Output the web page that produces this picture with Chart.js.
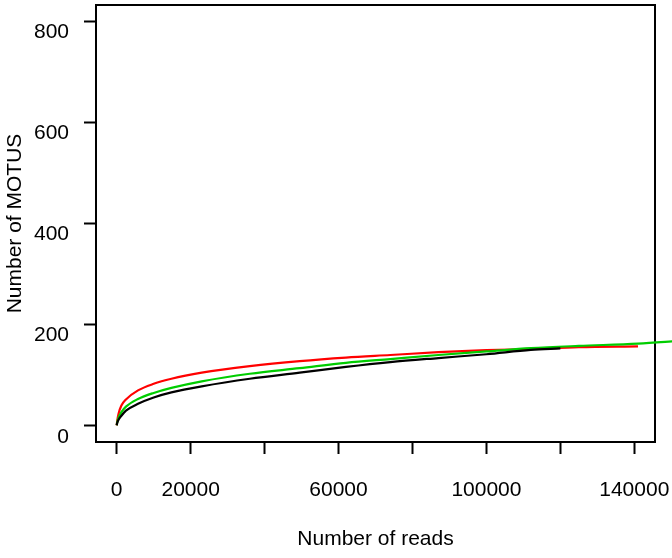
<!DOCTYPE html>
<html lang="en">
<head>
  <meta charset="UTF-8">
  <title>Rarefaction curves</title>
  <script src="https://cdn.jsdelivr.net/npm/chart.js"></script>
  <style>
    html, body { margin: 0; padding: 0; background: #fff; }
    canvas { display: block; }
  </style>
</head>
<body>
  <canvas id="rareChart" width="672" height="558"></canvas>

  <script>
    const blackReads = [0, 150, 500, 1270, 2500, 5760, 10000, 14800, 23000, 36000, 49500, 62000, 74000, 87000, 100000, 112000, 120000];
    const blackMotus = [1, 6, 12, 20, 30, 43.5, 56, 66, 78, 93, 105, 116.5, 126, 134, 141.5, 150, 153];

    const redReads = [0, 150, 500, 1270, 2500, 5760, 10000, 14800, 23000, 36000, 49500, 62000, 74000, 87000, 100000, 112000, 125000, 141000];
    const redMotus = [1, 10, 24, 40, 52, 70, 83, 93, 105, 118, 128, 135, 140, 145.5, 149.5, 152, 155.5, 157];

    const greenReads = [0, 150, 500, 1270, 2500, 5760, 10000, 14800, 23000, 36000, 49500, 62000, 74000, 87000, 100000, 112000, 125000, 141000, 152000];
    const greenMotus = [1, 7, 16, 27, 38, 53, 65, 75, 88, 103, 114, 124.5, 132, 140, 147, 153.5, 158, 162.5, 168];

    const xTicks = [0, 20000, 40000, 60000, 80000, 100000, 120000, 140000];
    const xShown = [0, 20000, 60000, 100000, 140000];
    const yTicks = [0, 200, 400, 600, 800];

    const font = { family: '"Liberation Sans", Arial, Helvetica, sans-serif', size: 21 };

    function toPoints(xs, ys) {
      return xs.map((x, i) => ({ x: x, y: ys[i] }));
    }

    function curve(label, xs, ys, color) {
      return {
        label: label,
        data: toPoints(xs, ys),
        borderColor: color,
        borderWidth: 2.2,
        pointRadius: 0,
        fill: false,
        showLine: true,
        cubicInterpolationMode: 'monotone',
        clip: false
      };
    }

    // no extra room for overhanging tick labels, the plot box is fixed
    function noPadding(s) {
      s.paddingTop = 0;
      s.paddingBottom = 0;
      s.paddingLeft = 0;
      s.paddingRight = 0;
    }

    // frame round the plotting region, like R's box()
    const boxPlugin = {
      id: 'box',
      beforeDatasetsDraw(chart) {
        const a = chart.chartArea;
        const ctx = chart.ctx;
        ctx.save();
        ctx.strokeStyle = '#000';
        ctx.lineWidth = 2;
        ctx.strokeRect(a.left, a.top, a.right - a.left, a.bottom - a.top);
        ctx.restore();
      }
    };

    const ctx = document.getElementById('rareChart').getContext('2d');
    new Chart(ctx, {
      type: 'scatter',
      data: {
        datasets: [
          curve('black', blackReads, blackMotus, '#000000'),
          curve('green', greenReads, greenMotus, '#00cd00'),
          curve('red', redReads, redMotus, '#ff0000')
        ]
      },
      options: {
        responsive: false,
        animation: false,
        layout: { padding: { top: 5, right: 17, left: 0, bottom: 0 } },
        plugins: {
          legend: { display: false },
          tooltip: { enabled: false }
        },
        scales: {
          x: {
            type: 'linear',
            min: -5600,
            max: 145600,
            afterBuildTicks: s => { s.ticks = xTicks.map(v => ({ value: v })); },
            afterFit: s => { s.height = 116; noPadding(s); },
            border: { display: false },
            grid: { display: true, drawOnChartArea: false, drawTicks: true, tickLength: 12, tickWidth: 2, tickColor: '#000' },
            ticks: {
              color: '#000',
              font: font,
              padding: 24,
              maxRotation: 0,
              autoSkip: false,
              callback: v => xShown.includes(v) ? String(v) : ''
            },
            title: { display: true, text: 'Number of reads', color: '#000', font: font, padding: { bottom: 6 } }
          },
          y: {
            type: 'linear',
            min: -32,
            max: 832,
            afterBuildTicks: s => { s.ticks = yTicks.map(v => ({ value: v })); },
            afterFit: s => { s.width = 96; noPadding(s); },
            border: { display: false },
            grid: { display: true, drawOnChartArea: false, drawTicks: true, tickLength: 12, tickWidth: 2, tickColor: '#000' },
            ticks: {
              color: '#000',
              font: font,
              padding: 15,
              labelOffset: 11,
              callback: v => String(v)
            },
            title: { display: true, text: 'Number of MOTUS', color: '#000', font: font, padding: { top: 3 } }
          }
        }
      },
      plugins: [boxPlugin]
    });
  </script>
</body>
</html>
